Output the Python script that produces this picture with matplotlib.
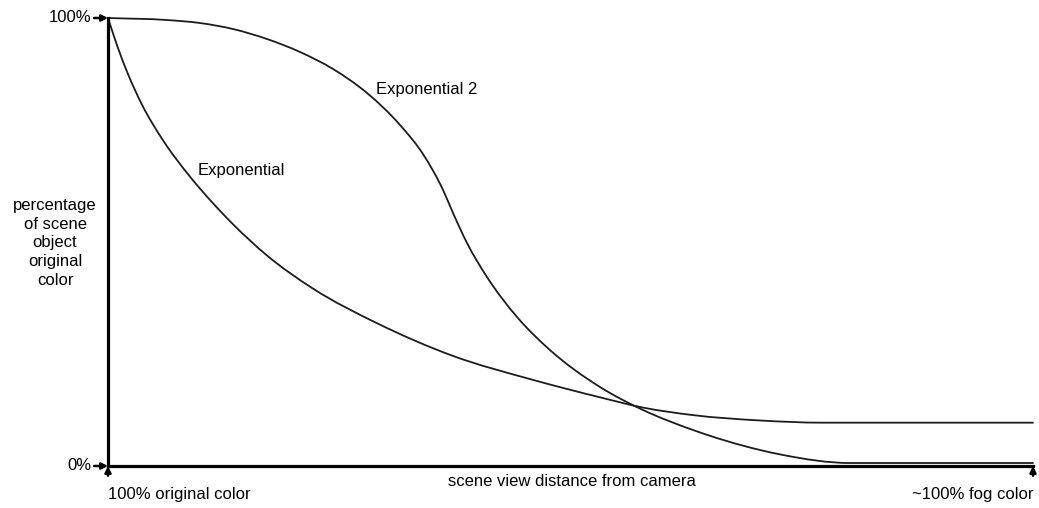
import matplotlib
matplotlib.use("Agg")
import matplotlib.pyplot as plt
from matplotlib.path import Path
from matplotlib.patches import PathPatch

plt.rcParams['font.family'] = ['Liberation Sans', 'DejaVu Sans']

# distance from camera (0 = at camera, 100 = far end), percentage of original colour kept
exp_x = [0, 1.08, 2.16, 3.68, 5.84, 8.86, 11.03, 13.51, 17.19, 22.16, 29.08,
         37.30, 45.95, 53.19, 57.84, 63.24, 70.49, 77.30, 100]
exp_y = [100, 93.3, 87.5, 80.63, 73.04, 64.6, 59.38, 53.97, 46.99, 39.6, 31.88,
         24.57, 19.22, 15.33, 13.04, 11.36, 10.16, 9.67, 9.67]

exp2_x = [0, 6.38, 9.95, 13.51, 17.19, 20.76, 24.32, 28.0, 31.57, 34.05, 36.22,
          37.30, 38.81, 40.97, 44.22, 47.78, 53.19, 57.84, 63.24, 70.49, 72.97,
          80.22, 100]
exp2_y = [100, 99.55, 98.88, 97.54, 95.31, 92.41, 88.62, 83.26, 76.12, 69.64, 61.61,
          56.47, 49.78, 42.19, 33.26, 25.89, 17.63, 12.5, 8.04, 3.57, 2.46,
          0.67, 0.67]


def smooth_path(xs, ys):
    """Smooth cubic (Hermite) curve through the points, as Bezier segments."""
    n = len(xs)
    h = [xs[i + 1] - xs[i] for i in range(n - 1)]
    d = [(ys[i + 1] - ys[i]) / h[i] for i in range(n - 1)]
    m = [0.0] * n
    m[0] = d[0]
    m[-1] = d[-1]
    for i in range(1, n - 1):
        if d[i - 1] * d[i] <= 0:
            m[i] = 0.0
        else:
            m[i] = (d[i - 1] * h[i] + d[i] * h[i - 1]) / (h[i - 1] + h[i])
    verts = [(xs[0], ys[0])]
    codes = [Path.MOVETO]
    for i in range(n - 1):
        t = h[i] / 3
        verts += [(xs[i] + t, ys[i] + m[i] * t),
                  (xs[i + 1] - t, ys[i + 1] - m[i + 1] * t),
                  (xs[i + 1], ys[i + 1])]
        codes += [Path.CURVE4] * 3
    return Path(verts, codes)


W, H = 1039, 508
fig = plt.figure(figsize=(W / 100, H / 100), dpi=100)
ax = fig.add_axes([108 / W, 42 / H, (1033 - 108) / W, (466 - 18) / H])
ax.set_xlim(0, 100)
ax.set_ylim(0, 100)

for xs, ys in ((exp_x, exp_y), (exp2_x, exp2_y)):
    ax.add_patch(PathPatch(smooth_path(xs, ys), facecolor='none', edgecolor='#1c1c1c',
                           lw=1.3, capstyle='round', joinstyle='round', clip_on=False))

ax.text(9.7, 66, 'Exponential', fontsize=12, ha='left', va='center')
ax.text(29.0, 84, 'Exponential 2', fontsize=12, ha='left', va='center')

for side in ('top', 'right'):
    ax.spines[side].set_visible(False)
for side in ('left', 'bottom'):
    ax.spines[side].set_linewidth(2.3)
    ax.spines[side].set_color('black')
ax.set_xticks([])
ax.set_yticks([])

arrow = dict(arrowstyle='-|>', color='black', lw=1.8, mutation_scale=9, shrinkA=0, shrinkB=0)

# level markers on the vertical axis
for yv, lab in ((100, '100%'), (0, '0%')):
    ax.annotate('', xy=(0, yv), xycoords='data', xytext=(-10, 0),
                textcoords='offset points', arrowprops=arrow, annotation_clip=False)
    ax.annotate(lab, xy=(0, yv), xycoords='data', xytext=(-12, 0),
                textcoords='offset points', ha='right', va='center',
                fontsize=12, annotation_clip=False)

# end markers on the horizontal axis
for xv in (0, 100):
    ax.annotate('', xy=(xv, 0), xycoords='data', xytext=(0, -7),
                textcoords='offset points', arrowprops=arrow, annotation_clip=False)

fig.text(108 / W, 1 - 494 / H, '100% original color', fontsize=12, ha='left', va='center')
fig.text(1033 / W, 1 - 494 / H, '~100% fog color', fontsize=12, ha='right', va='center')
fig.text(572 / W, 1 - 481 / H, 'scene view distance from camera', fontsize=12, ha='center', va='center')
fig.text(55 / W, 1 - 243 / H, 'percentage\nof scene\nobject\noriginal\ncolor',
         fontsize=12, ha='center', va='center', linespacing=1.3)

fig.savefig('out.png', dpi=100)
